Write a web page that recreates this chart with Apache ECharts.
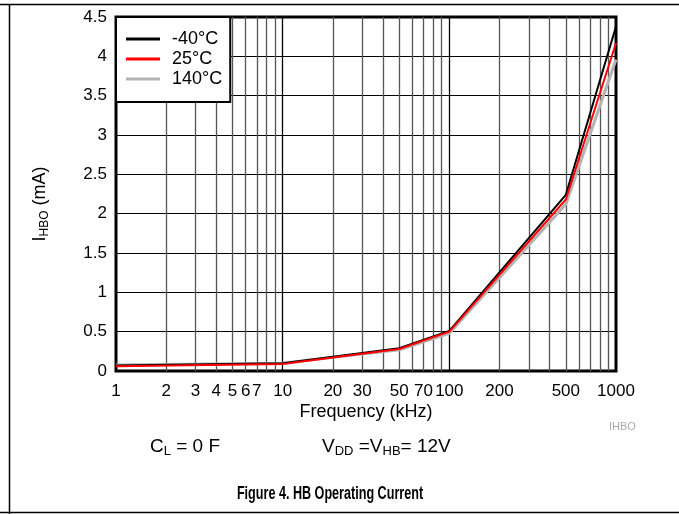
<!DOCTYPE html>
<html>
<head>
<meta charset="utf-8">
<script src="https://cdn.jsdelivr.net/npm/echarts@6/dist/echarts.min.js"></script>
<style>
html,body{margin:0;padding:0;background:#fff;}
#c{width:679px;height:514px;}
</style>
</head>
<body>
<div id="c"></div>
<script>
// ---- data ----
var freqKHz = [1, 10, 50, 100, 500, 1000];
var iMinus40 = [0.07, 0.10, 0.29, 0.51, 2.24, 4.38];
var i25 = [0.06, 0.09, 0.28, 0.50, 2.18, 4.17];
var i140 = [0.075, 0.10, 0.27, 0.48, 2.12, 3.96];
var seriesNames = ['-40°C', '25°C', '140°C'];
var xGridValues = [2,3,4,5,6,7,8,9,10,20,30,40,50,60,70,80,90,100,200,300,400,500,600,700,800,900];
var xMajorValues = [10, 100];
var xTickLabels = [1,2,3,4,5,6,7,10,20,30,50,70,100,200,500,1000];

function pairs(ys){ return freqKHz.map(function(x,i){ return [x, ys[i]]; }); }

var FONT = 'Liberation Sans, Arial, sans-serif';
var chart = echarts.init(document.getElementById('c'), null, {renderer:'canvas'});

var gridLines = xGridValues.map(function(v){
  var major = xMajorValues.indexOf(v) >= 0;
  return {xAxis: v, lineStyle: {color: major ? '#000' : '#555', width: 1.3, type: 'solid'}};
});
var labelLines = xTickLabels.map(function(v){
  return {xAxis: v, lineStyle: {color: 'rgba(0,0,0,0)', width: 0}, label: {show: true, formatter: String(v)}};
});

var option = {
  animation: false,
  backgroundColor: '#fff',
  grid: {left: 116, right: 63, top: 17, height: 354, show: true, borderColor: '#000', borderWidth: 3, backgroundColor: 'transparent'},
  legend: {
    left: 116, top: 17, orient: 'vertical',
    data: seriesNames,
    backgroundColor: '#fff', borderColor: '#000', borderWidth: 2,
    padding: [13, 8, 14, 10], itemGap: 2,
    itemWidth: 34, itemHeight: 3, icon: 'rect',
    textStyle: {fontFamily: FONT, fontSize: 18, color: '#000', padding: [0,0,0,7]},
    z: 10
  },
  xAxis: {
    type: 'log', logBase: 10, min: 1, max: 1000,
    axisLine: {show: false}, axisTick: {show: false},
    axisLabel: {show: false},
    splitLine: {show: false},
    name: 'Frequency (kHz)', nameLocation: 'middle', nameGap: 32,
    nameTextStyle: {fontFamily: FONT, fontSize: 18, color: '#000'}
  },
  yAxis: {
    type: 'value', min: 0, max: 4.5, interval: 0.5,
    axisLine: {show: false}, axisTick: {show: false},
    axisLabel: {fontFamily: FONT, fontSize: 17, color: '#000', margin: 9},
    splitLine: {show: true, lineStyle: {color: '#000', width: 1.2}}
  },
  series: [
    {name: '140°C', type: 'line', data: pairs(i140), symbol: 'none', z: 3,
     lineStyle: {color: '#b3b3b3', width: 3}, itemStyle: {color: '#b3b3b3'},
     markLine: {silent: true, symbol: 'none', animation: false, label: {show: false}, data: gridLines, z: 1}},
    {name: '-40°C', type: 'line', data: pairs(iMinus40), symbol: 'none', z: 4,
     lineStyle: {color: '#000', width: 2}, itemStyle: {color: '#000'},
     markLine: {silent: true, symbol: 'none', animation: false,
       label: {show: true, position: 'start', distance: 12, fontFamily: FONT, fontSize: 17, color: '#000'},
       data: labelLines}},
    {name: '25°C', type: 'line', data: pairs(i25), symbol: 'none', z: 5,
     lineStyle: {color: '#ff0000', width: 2}, itemStyle: {color: '#ff0000'}}
  ],
  graphic: [
    {type: 'line', shape: {x1: 0, y1: 4.5, x2: 679, y2: 4.5}, style: {stroke: '#000', lineWidth: 1.5}},
    {type: 'line', shape: {x1: 9.5, y1: 4, x2: 9.5, y2: 514}, style: {stroke: '#000', lineWidth: 1.5}},
    {type: 'line', shape: {x1: 0, y1: 512.5, x2: 679, y2: 512.5}, style: {stroke: '#000', lineWidth: 1.5}},
    {type: 'text', x: 40, y: 204, rotation: Math.PI / 2, style: {
      text: '{a|I}{b|HBO}{a| (mA)}', align: 'center', verticalAlign: 'middle',
      rich: {a: {fontFamily: FONT, fontSize: 18, fill: '#000', lineHeight: 22},
             b: {fontFamily: FONT, fontSize: 12, fill: '#000', lineHeight: 14, verticalAlign: 'bottom'}}}},
    {type: 'text', left: 609, top: 421, style: {text: 'IHBO', fontFamily: FONT, fontSize: 11, fill: '#aaa'}},
    {type: 'text', left: 150, top: 437, style: {
      text: '{a|C}{b|L}{a| = 0 F}',
      rich: {a: {fontFamily: FONT, fontSize: 19, fill: '#000', lineHeight: 23},
             b: {fontFamily: FONT, fontSize: 13, fill: '#000', lineHeight: 15, verticalAlign: 'bottom'}}}},
    {type: 'text', left: 322, top: 437, style: {
      text: '{a|V}{b|DD}{a| =V}{b|HB}{a|= 12V}',
      rich: {a: {fontFamily: FONT, fontSize: 19, fill: '#000', lineHeight: 23},
             b: {fontFamily: FONT, fontSize: 13, fill: '#000', lineHeight: 15, verticalAlign: 'bottom'}}}},
    {type: 'text', x: 330, y: 494, scaleX: 0.7, style: {
      text: 'Figure 4. HB Operating Current', align: 'center', verticalAlign: 'middle',
      fontFamily: FONT, fontSize: 18, fontWeight: 'bold', fill: '#000'}}
  ]
};
chart.setOption(option);
</script>
</body>
</html>
